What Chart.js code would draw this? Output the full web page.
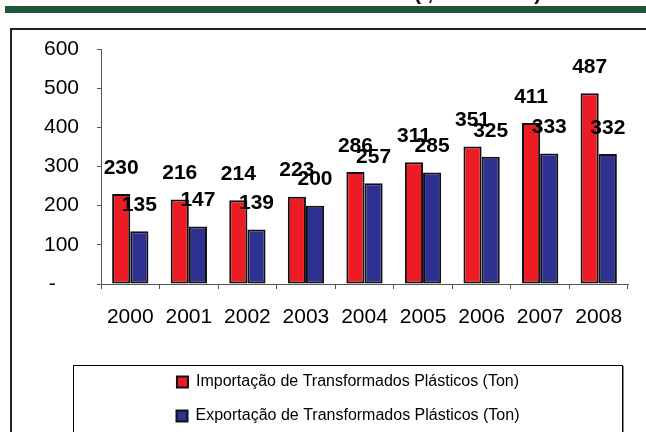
<!DOCTYPE html>
<html>
<head>
<meta charset="utf-8">
<script src="https://cdn.jsdelivr.net/npm/chart.js@4"></script>
<style>
  body { margin: 0; background: #fff; }
  #wrap { position: relative; width: 646px; height: 432px; overflow: hidden; }
  #title { position: absolute; top: -17px; right: 105px; font: bold 20px Arial, "Liberation Sans", sans-serif; line-height: 20px; white-space: nowrap; color: #000; }
  #band { position: absolute; left: 5px; top: 6px; width: 650px; height: 7px; background: #1F5738; }
  #frame { position: absolute; left: 10px; top: 28px; width: 700px; height: 500px; border: 2px solid #222; }
  #legendBox { position: absolute; left: 73px; top: 365px; width: 548px; height: 120px; border: 1px solid #000; box-shadow: 1px 1px 0 #888; }
  #chart { position: absolute; left: 0; top: 0; }
</style>
</head>
<body>
<div id="wrap">
  <div id="title">(t, 2000-2008)</div>
  <div id="band"></div>
  <div id="frame"></div>
  <div id="legendBox"></div>
  <canvas id="chart" width="646" height="432"></canvas>
</div>
<script>
'use strict';

const years = ['2000', '2001', '2002', '2003', '2004', '2005', '2006', '2007', '2008'];
const importacao = [230, 216, 214, 223, 286, 311, 351, 411, 487];
const exportacao = [135, 147, 139, 200, 257, 285, 325, 333, 332];
const yTicks = [0, 100, 200, 300, 400, 500, 600];

const fontFamily = 'Arial, "Liberation Sans", sans-serif';

// value labels above each bar (Excel style, bold)
const barLabels = {
  id: 'barLabels',
  afterDatasetsDraw(chart) {
    const ctx = chart.ctx;
    ctx.save();
    ctx.font = 'bold 21px ' + fontFamily;
    ctx.fillStyle = '#000';
    ctx.textAlign = 'center';
    ctx.textBaseline = 'middle';
    chart.data.datasets.forEach((ds, i) => {
      chart.getDatasetMeta(i).data.forEach((bar, j) => {
        ctx.fillText(String(ds.data[j]), bar.x, bar.y - 26);
      });
    });
    ctx.restore();
  }
};

let canvasElem = document.getElementById('chart');

new Chart(canvasElem, {
  type: 'bar',
  data: {
    labels: years,
    datasets: [
      {
        label: 'Importação de Transformados Plásticos (Ton)',
        data: importacao,
        backgroundColor: '#ED1C24',
        borderColor: '#111',
        borderWidth: 2,
        borderSkipped: false,
      },
      {
        label: 'Exportação de Transformados Plásticos (Ton)',
        data: exportacao,
        backgroundColor: '#2E3192',
        borderColor: '#111',
        borderWidth: 2,
        borderSkipped: false,
      },
    ],
  },
  options: {
    responsive: false,
    animation: false,
    layout: { padding: { top: 49, left: 68, right: 18, bottom: -2 } },
    categoryPercentage: 0.62,
    barPercentage: 1.0,
    plugins: {
      tooltip: { enabled: false },
      legend: {
        position: 'bottom',
        labels: {
          color: '#000',
          font: { family: fontFamily, size: 16 },
          boxWidth: 11,
          boxHeight: 11,
          padding: 18,
        },
      },
    },
    scales: {
      y: {
        min: 0,
        max: 600,
        afterBuildTicks: (scale) => {
          scale.ticks = yTicks.map((v) => ({ value: v }));
        },
        afterFit: (scale) => {
          scale.width = 33;
          // labels stick out left of the narrow axis box, so don't clip them
          scale._computeLabelArea = () => undefined;
        },
        ticks: {
          color: '#000',
          font: { family: fontFamily, size: 21 },
          padding: 18,
          callback: (v) => (v === 0 ? '-    ' : String(v)),
        },
        grid: { drawOnChartArea: false, tickLength: 4, color: '#555' },
        border: { color: '#555' },
      },
      x: {
        afterFit: (scale) => {
          scale.height = 72;
        },
        ticks: {
          color: '#000',
          font: { family: fontFamily, size: 21 },
          padding: 16,
          maxRotation: 0,
        },
        grid: { drawOnChartArea: false, tickLength: 5, color: '#555', offset: true },
        border: { color: '#555' },
      },
    },
  },
  plugins: [barLabels],
});
</script>
</body>
</html>
